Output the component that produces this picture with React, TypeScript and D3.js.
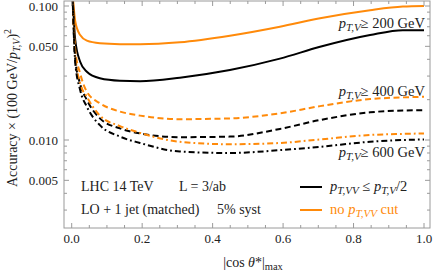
import React, { useEffect, useRef } from 'react';
import * as d3 from 'd3';

// |cos theta*|_max sample points
const cosMax = [0.002, 0.01, 0.024, 0.043, 0.08, 0.137, 0.194, 0.307, 0.449, 0.591, 0.705, 0.847, 0.94, 1.0];

// pT,V >= 200 GeV
const noCut200 = [0.13, 0.077, 0.0607, 0.0551, 0.0527, 0.0519, 0.0518, 0.0536, 0.06, 0.07, 0.081, 0.093, 0.099, 0.1];
const cut200 = [0.13, 0.056, 0.0384, 0.0323, 0.0289, 0.0277, 0.0275, 0.0292, 0.0333, 0.0405, 0.0496, 0.0607, 0.066, 0.066];
// pT,V >= 400 GeV
const noCut400 = [0.13, 0.047, 0.0314, 0.0229, 0.0188, 0.0163, 0.0152, 0.0143, 0.0145, 0.0158, 0.0179, 0.0202, 0.0208, 0.021];
const cut400 = [0.13, 0.04, 0.0262, 0.0199, 0.0145, 0.0122, 0.0112, 0.0105, 0.0106, 0.0121, 0.0141, 0.0161, 0.0166, 0.0167];
// pT,V >= 600 GeV
const noCut600 = [0.13, 0.043, 0.0265, 0.021, 0.0152, 0.0127, 0.0113, 0.0097, 0.0093, 0.0095, 0.0101, 0.0109, 0.0111, 0.0112];
const cut600 = [0.13, 0.038, 0.0236, 0.0177, 0.0129, 0.0106, 0.0095, 0.0082, 0.008, 0.0084, 0.0089, 0.0097, 0.01, 0.0101];

const xTicks = [0, 0.2, 0.4, 0.6, 0.8, 1.0];
const yTicks = [0.005, 0.01, 0.05, 0.1];

const ORANGE = '#ff8a0a';

function App() {
  const ref = useRef<SVGSVGElement>(null);

  useEffect(() => {
    const svg = d3.select(ref.current);
    svg.selectAll('*').remove();

    const left = 64, right = 430, top = 1, bottom = 228;
    const x = d3.scaleLinear().domain([0, 1]).range([71.7, 424]);
    const y = d3.scaleLog().domain([0.01, 0.1]).range([140, 6]);
    const font = '"Liberation Serif", "DejaVu Serif", serif';

    svg.append('defs').append('clipPath').attr('id', 'plotclip')
      .append('rect').attr('x', left).attr('y', top).attr('width', right - left).attr('height', bottom - top);

    const line = d3.line<[number, number]>()
      .x((d) => x(d[0]))
      .y((d) => y(d[1]))
      .curve(d3.curveMonotoneX);

    const series = [
      { v: noCut200, color: ORANGE, dash: null },
      { v: cut200, color: '#000', dash: null },
      { v: noCut400, color: ORANGE, dash: '6,3.5' },
      { v: cut400, color: '#000', dash: '6,3.5' },
      { v: noCut600, color: ORANGE, dash: '6,3,1.8,3' },
      { v: cut600, color: '#000', dash: '6,3,1.8,3' },
    ];

    const g = svg.append('g').attr('clip-path', 'url(#plotclip)');
    series.forEach((s) => {
      g.append('path')
        .datum(cosMax.map((c, i) => [c, s.v[i]] as [number, number]))
        .attr('d', line)
        .attr('fill', 'none')
        .attr('stroke', s.color)
        .attr('stroke-width', 2)
        .attr('stroke-dasharray', s.dash);
    });

    // frame
    const axisColor = '#9a9a9a';
    svg.append('rect')
      .attr('x', left).attr('y', top).attr('width', right - left).attr('height', bottom - top)
      .attr('fill', 'none').attr('stroke', axisColor).attr('stroke-width', 1);

    // x ticks (major every 0.2, minor every 0.05)
    const xMinor = d3.range(0, 1.0001, 0.05);
    xMinor.forEach((t) => {
      const major = xTicks.some((m) => Math.abs(m - t) < 1e-6);
      const len = major ? 5 : 3;
      const px = x(t);
      svg.append('line').attr('x1', px).attr('x2', px).attr('y1', bottom).attr('y2', bottom - len)
        .attr('stroke', axisColor);
      svg.append('line').attr('x1', px).attr('x2', px).attr('y1', top).attr('y2', top + len)
        .attr('stroke', axisColor);
    });
    xTicks.forEach((t) => {
      svg.append('text').attr('x', x(t)).attr('y', 243).attr('text-anchor', 'middle')
        .attr('font-family', font).attr('font-size', 13).attr('fill', '#222')
        .text(t.toFixed(1));
    });

    // y ticks (log)
    const yMinor: number[] = [];
    [0.001, 0.01].forEach((dec) => {
      for (let k = 1; k <= 9; k++) yMinor.push(dec * k);
    });
    yMinor.push(0.1);
    const yLo = y.invert(bottom), yHi = y.invert(top);
    yMinor.filter((t) => t >= yLo && t <= yHi).forEach((t) => {
      const major = yTicks.some((m) => Math.abs(m - t) < 1e-9);
      const len = major ? 5 : 3;
      const py = y(t);
      svg.append('line').attr('x1', left).attr('x2', left + len).attr('y1', py).attr('y2', py)
        .attr('stroke', axisColor);
      svg.append('line').attr('x1', right).attr('x2', right - len).attr('y1', py).attr('y2', py)
        .attr('stroke', axisColor);
    });
    yTicks.forEach((t) => {
      svg.append('text').attr('x', 58).attr('y', y(t) + 4.5).attr('text-anchor', 'end')
        .attr('font-family', font).attr('font-size', 13).attr('fill', '#222')
        .text(t.toFixed(3));
    });

    // y label
    const yl = svg.append('text')
      .attr('transform', 'translate(17,108) rotate(-90)')
      .attr('text-anchor', 'middle')
      .attr('font-family', font).attr('font-size', 14).attr('fill', '#222');
    yl.append('tspan').text('Accuracy × (100 GeV/');
    yl.append('tspan').attr('font-style', 'italic').text('p');
    yl.append('tspan').attr('font-style', 'italic').attr('font-size', 10).attr('dy', 3).text('T,V');
    yl.append('tspan').attr('dy', -3).text(')');
    yl.append('tspan').attr('font-size', 10).attr('dy', -6).text('2');

    // x label
    const xl = svg.append('text').attr('x', 253).attr('y', 267).attr('text-anchor', 'middle')
      .attr('font-family', font).attr('font-size', 14).attr('fill', '#222');
    xl.append('tspan').text('|cos ');
    xl.append('tspan').attr('font-style', 'italic').text('θ');
    xl.append('tspan').text('*|');
    xl.append('tspan').attr('font-size', 10.5).attr('dy', 3).text('max');

    // pT,V labels
    const ptLabel = (yy: number, val: string) => {
      const t = svg.append('text').attr('x', 425).attr('y', yy).attr('text-anchor', 'end')
        .attr('font-family', font).attr('font-size', 14.5).attr('fill', '#222');
      t.append('tspan').attr('font-style', 'italic').text('p');
      t.append('tspan').attr('font-style', 'italic').attr('font-size', 11).attr('dy', 3).text('T,V');
      t.append('tspan').attr('dy', -3).text(`≥ ${val} GeV`);
    };
    ptLabel(28, '200');
    ptLabel(96, '400');
    ptLabel(157, '600');

    // run info
    const info = (xx: number, yy: number, s: string) => {
      svg.append('text').attr('x', xx).attr('y', yy).attr('font-family', font)
        .attr('font-size', 14).attr('fill', '#222').text(s);
    };
    info(81, 191, 'LHC 14 TeV');
    info(179, 191, 'L = 3/ab');
    info(81, 214, 'LO + 1 jet (matched)');
    info(217, 214, '5% syst');

    // legend
    svg.append('line').attr('x1', 300).attr('x2', 322).attr('y1', 187).attr('y2', 187)
      .attr('stroke', '#000').attr('stroke-width', 2);
    svg.append('line').attr('x1', 300).attr('x2', 322).attr('y1', 210).attr('y2', 210)
      .attr('stroke', ORANGE).attr('stroke-width', 2);

    const l1 = svg.append('text').attr('x', 330).attr('y', 191).attr('font-family', font)
      .attr('font-size', 14.5).attr('fill', '#222');
    l1.append('tspan').attr('font-style', 'italic').text('p');
    l1.append('tspan').attr('font-style', 'italic').attr('font-size', 11).attr('dy', 3).text('T,VV');
    l1.append('tspan').attr('dy', -3).text(' ≤ ');
    l1.append('tspan').attr('font-style', 'italic').text('p');
    l1.append('tspan').attr('font-style', 'italic').attr('font-size', 11).attr('dy', 3).text('T,V');
    l1.append('tspan').attr('dy', -3).text('/2');

    const l2 = svg.append('text').attr('x', 330).attr('y', 214).attr('font-family', font)
      .attr('font-size', 14.5).attr('fill', ORANGE);
    l2.append('tspan').text('no ');
    l2.append('tspan').attr('font-style', 'italic').text('p');
    l2.append('tspan').attr('font-style', 'italic').attr('font-size', 11).attr('dy', 3).text('T,VV');
    l2.append('tspan').attr('dy', -3).text(' cut');
  }, []);

  return (
    <div>
      <svg ref={ref} width={437} height={274} style={{ position: 'absolute', left: 0, top: 0, background: '#fff' }}></svg>
    </div>
  );
}

export default App;
